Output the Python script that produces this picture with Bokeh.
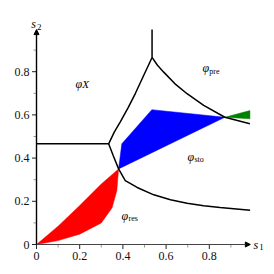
from bokeh.plotting import figure
from bokeh.embed import file_html
from bokeh.resources import INLINE
from bokeh.models import Arrow, NormalHead, Range1d
from bokeh.core.properties import value

# --- data ---
x_ticks = [0.0, 0.2, 0.4, 0.6, 0.8]
x_tick_labels = ["0", "0.2", "0.4", "0.6", "0.8"]
y_ticks = [0.0, 0.2, 0.4, 0.6, 0.8]
y_tick_labels = ["0", "0.2", "0.4", "0.6", "0.8"]
minor_ticks = [0.1, 0.3, 0.5, 0.7, 0.9]

horiz_s1 = [0.0, 0.334]
horiz_s2 = [0.466, 0.466]

up_s1 = [0.334, 0.36, 0.388, 0.425, 0.458, 0.495, 0.535]
up_s2 = [0.466, 0.52, 0.568, 0.635, 0.70, 0.78, 0.866]

vert_s1 = [0.535, 0.535]
vert_s2 = [0.866, 0.995]

pre_s1 = [0.535, 0.56, 0.589, 0.64, 0.697, 0.774, 0.872, 0.988]
pre_s2 = [0.866, 0.83, 0.798, 0.745, 0.698, 0.644, 0.589, 0.559]

low_s1 = [0.334, 0.355, 0.380, 0.411, 0.466, 0.543, 0.62, 0.697, 0.774, 0.85, 0.989]
low_s2 = [0.466, 0.412, 0.350, 0.296, 0.264, 0.230, 0.207, 0.191, 0.179, 0.171, 0.159]

red_up_s1 = [0.0, 0.1, 0.2, 0.3, 0.38]
red_up_s2 = [0.0, 0.085, 0.18, 0.28, 0.35]
red_lo_s1 = [0.38, 0.372, 0.35, 0.3, 0.2, 0.1, 0.0]
red_lo_s2 = [0.35, 0.25, 0.17, 0.1, 0.048, 0.018, 0.0]

blue_s1 = [0.380, 0.395, 0.534, 0.872]
blue_s2 = [0.350, 0.466, 0.624, 0.589]

green_s1 = [0.872, 0.988, 0.988]
green_s2 = [0.589, 0.620, 0.582]

region_names = ["X", "pre", "sto", "res"]
phi_s1 = [0.18, 0.768, 0.699, 0.394]
phi_s2 = [0.745, 0.815, 0.407, 0.134]
sub_s1 = [0.212, 0.800, 0.731, 0.426]
sub_s2 = [0.745, 0.80, 0.395, 0.122]

serif = "'Liberation Serif', 'DejaVu Serif', serif"
F = value(serif)
U = 1.0 / 216.0  # one screen pixel in data units (both axes share the scale)

# frame covers the whole canvas so nothing is clipped
p = figure(width=274, height=274, output_backend="svg", toolbar_location=None,
           x_axis_location=None, y_axis_location=None,
           x_range=Range1d(-36 * U, 238 * U), y_range=Range1d(-30 * U, 244 * U),
           min_border=0)
p.outline_line_color = None
p.grid.grid_line_color = None
p.background_fill_color = "white"
p.border_fill_color = "white"

# regions
p.patch(red_up_s1 + red_lo_s1, red_up_s2 + red_lo_s2, fill_color="red", line_color="red", line_width=0.5)
p.patch(blue_s1, blue_s2, fill_color="blue", line_color="blue", line_width=0.5)
p.patch(green_s1, green_s2, fill_color="green", line_color="green", line_width=0.5)

# boundaries
for xs, ys in [(horiz_s1, horiz_s2), (up_s1, up_s2), (vert_s1, vert_s2), (pre_s1, pre_s2), (low_s1, low_s2)]:
    p.line(xs, ys, line_color="black", line_width=1.5)

# ticks (outside, major dark, minor grey)
n = len(x_ticks)
p.segment(x_ticks, [0] * n, x_ticks, [-4.5 * U] * n, line_color="#222222", line_width=1)
p.segment([0] * n, y_ticks, [-4.5 * U] * n, y_ticks, line_color="#222222", line_width=1)
m = len(minor_ticks)
p.segment(minor_ticks, [0] * m, minor_ticks, [-3 * U] * m, line_color="#999999", line_width=1)
p.segment([0] * m, minor_ticks, [-3 * U] * m, minor_ticks, line_color="#999999", line_width=1)

# tick labels
p.text(x_ticks, [-11 * U] * n, text=x_tick_labels, text_font=F, text_font_size="12px",
       text_align="center", text_baseline="middle", text_color="#111111")
p.text([-7 * U] * n, y_ticks, text=y_tick_labels, text_font=F, text_font_size="12px",
       text_align="right", text_baseline="middle", text_color="#111111")

# axes with arrows
p.add_layout(Arrow(end=NormalHead(size=5, fill_color="black", line_color="black"),
                   x_start=0, y_start=0, x_end=0.99, y_end=0, line_color="#444444", line_width=1.2))
p.add_layout(Arrow(end=NormalHead(size=5, fill_color="black", line_color="black"),
                   x_start=0, y_start=0, x_end=0, y_end=0.995, line_color="black", line_width=1.4))

# axis names
p.text([1.0046], [0.0], text=["s"], text_font=F, text_font_style="italic",
       text_font_size="12px", text_baseline="middle", text_align="left", text_color="black")
p.text([1.031], [-2.5 * U], text=["1"], text_font=F, text_font_size="9px",
       text_baseline="middle", text_align="left", text_color="black")
p.text([-0.0245], [1.019], text=["s"], text_font=F, text_font_style="italic",
       text_font_size="12px", text_baseline="middle", text_align="left", text_color="black")
p.text([0.0023], [1.007], text=["2"], text_font=F, text_font_size="9px",
       text_baseline="middle", text_align="left", text_color="black")

# region labels
p.text(phi_s1, phi_s2, text=["φ"] * 4, text_font=F, text_font_style="italic",
       text_font_size="12px", text_baseline="middle", text_align="left", text_color="black")
p.text(sub_s1[:1], sub_s2[:1], text=region_names[:1], text_font=F, text_font_style="italic",
       text_font_size="11px", text_baseline="middle", text_align="left", text_color="black")
p.text(sub_s1[1:], sub_s2[1:], text=region_names[1:], text_font=F,
       text_font_size="8px", text_baseline="middle", text_align="left", text_color="black")

open("out.html", "w").write(file_html(p, INLINE))
